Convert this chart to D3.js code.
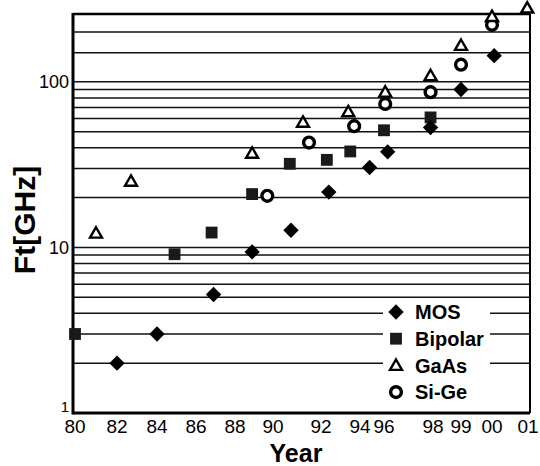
<!DOCTYPE html>
<meta charset="utf-8">
<script src="https://d3js.org/d3.v7.min.js"></script>
<style>
  body { margin: 0; background: #fff; }
  text { font-family: "Liberation Sans", Arial, sans-serif; fill: #000; }
</style>
<div id="chart"></div>
<script>
// tick labels on the (irregular) year axis
const tickYears = [80, 82, 84, 86, 88, 90, 92, 94, 96, 98, 99, 100, 101];
const tickLabels = ["80", "82", "84", "86", "88", "90", "92", "94", "96", "98", "99", "00", "01"];

// Ft values, per technology
const mosYears = [82, 84, 86.9, 88.9, 90.75, 92.4, 94.8, 96.15, 97.9, 99, 100.05];
const mosFt = [2.0, 3.0, 5.2, 9.4, 12.7, 21.6, 30.4, 37.8, 53, 90, 144];
const bipolarYears = [80, 84.9, 86.8, 88.9, 90.7, 92.3, 93.5, 96, 97.9];
const bipolarFt = [3.0, 9.1, 12.3, 21, 32, 33.8, 38, 51, 61];
const gaasYears = [81, 82.7, 88.9, 91.25, 93.4, 96.05, 97.9, 99, 100, 100.8];
const gaasFt = [12.2, 25.1, 37, 57, 66, 86.7, 109, 166, 248, 279];
const sigeYears = [89.7, 91.5, 93.7, 96.05, 97.9, 99, 100];
const sigeFt = [20.5, 43, 54, 73.6, 86.6, 127, 221];

const seriesNames = ["MOS", "Bipolar", "GaAs", "Si-Ge"];
const gridValues = [2, 3, 4, 5, 6, 7, 8, 9, 10, 20, 30, 40, 50, 60, 70, 80, 90, 100, 150, 200];
const yTicks = [1, 10, 100];

const margin = { top: 14, right: 10, bottom: 53, left: 73 },
  width = 540 - margin.left - margin.right,
  height = 466 - margin.top - margin.bottom;

const svg = d3.select("#chart")
  .append("svg")
  .attr("width", 540)
  .attr("height", 466)
  .append("g")
  .attr("transform", `translate(${margin.left}, ${margin.top})`);

// the year axis of the original is not evenly spaced -> piecewise linear scale
const x = d3.scaleLinear()
  .domain(tickYears)
  .range([2, 44, 84, 123, 162, 200, 248, 287, 311, 360, 388, 419, 463]);

const y = d3.scaleLog().domain([1, 257]).range([height, 0]);

// gridlines
svg.append("g")
  .selectAll("line")
  .data(gridValues)
  .join("line")
  .attr("x1", 0)
  .attr("x2", width)
  .attr("y1", d => y(d))
  .attr("y2", d => y(d))
  .attr("stroke", "#111")
  .attr("stroke-width", 1.5);

// legend background hides the gridlines behind it
const lgX = 310, lgY = 286;
svg.append("rect")
  .attr("x", lgX)
  .attr("y", lgY)
  .attr("width", 107)
  .attr("height", height - lgY)
  .attr("fill", "#fff");

// frame
svg.append("line").attr("x1", 0).attr("x2", width).attr("y1", 0).attr("y2", 0)
  .attr("stroke", "#000").attr("stroke-width", 2.5);
svg.append("line").attr("x1", width).attr("x2", width).attr("y1", 0).attr("y2", height)
  .attr("stroke", "#000").attr("stroke-width", 2);
svg.append("line").attr("x1", 0).attr("x2", 0).attr("y1", -1).attr("y2", height + 1.5)
  .attr("stroke", "#000").attr("stroke-width", 3);
svg.append("line").attr("x1", 0).attr("x2", width).attr("y1", height).attr("y2", height)
  .attr("stroke", "#000").attr("stroke-width", 3);

// y tick labels
svg.append("g")
  .selectAll("text")
  .data(yTicks)
  .join("text")
  .attr("x", -4)
  .attr("y", d => y(d))
  .attr("dy", d => d === 1 ? "-0.05em" : "0.35em")
  .attr("text-anchor", "end")
  .style("font-size", d => d === 1 ? "15px" : "18px")
  .text(d => d);

// x tick labels (last one pulled in so it stays on the page)
svg.append("g")
  .selectAll("text")
  .data(tickYears)
  .join("text")
  .attr("x", d => x(d))
  .attr("dx", (d, i) => i === tickYears.length - 1 ? -8 : 0)
  .attr("y", height + 20)
  .attr("text-anchor", "middle")
  .style("font-size", "19px")
  .text((d, i) => tickLabels[i]);

// axis titles
svg.append("text")
  .attr("x", 296 - margin.left)
  .attr("y", height + 49)
  .attr("text-anchor", "middle")
  .style("font-size", "25px")
  .style("font-weight", "bold")
  .text("Year");

svg.append("text")
  .attr("transform", `translate(${35 - margin.left}, ${220 - margin.top}) rotate(-90)`)
  .attr("text-anchor", "middle")
  .style("font-size", "30px")
  .style("font-weight", "bold")
  .text("Ft[GHz]");

// marker painters
const diamond = d3.symbol(d3.symbolSquare, 118);
const square = d3.symbol(d3.symbolSquare, 140);
const triangle = d3.symbol(d3.symbolTriangle, 62);

function drawMarker(g, name) {
  if (name === "MOS") {
    g.append("path").attr("d", diamond).attr("transform", "rotate(45)").attr("fill", "#000");
  } else if (name === "Bipolar") {
    g.append("path").attr("d", square).attr("fill", "#1a1a1a");
  } else if (name === "GaAs") {
    g.append("path").attr("d", triangle).attr("transform", "translate(0,1)")
      .attr("fill", "#fff").attr("stroke", "#000").attr("stroke-width", 2.4);
  } else {
    g.append("circle").attr("r", 5.4)
      .attr("fill", "#fff").attr("stroke", "#000").attr("stroke-width", 3.4);
  }
}

const seriesData = [
  { name: "MOS", years: mosYears, ft: mosFt },
  { name: "Bipolar", years: bipolarYears, ft: bipolarFt },
  { name: "GaAs", years: gaasYears, ft: gaasFt },
  { name: "Si-Ge", years: sigeYears, ft: sigeFt },
];

// draw the points (bipolar and mos first, open symbols on top)
const order = ["Bipolar", "MOS", "Si-Ge", "GaAs"];
order.forEach(function (name) {
  const s = seriesData.find(d => d.name === name);
  s.years.forEach(function (yr, i) {
    const g = svg.append("g")
      .attr("transform", `translate(${x(yr)}, ${y(s.ft[i])})`);
    drawMarker(g, name);
  });
});

// legend
seriesNames.forEach(function (name, i) {
  const row = svg.append("g")
    .attr("transform", `translate(${lgX + 13}, ${lgY + 12 + i * 26.7})`);
  drawMarker(row, name);
  row.append("text")
    .attr("x", 19)
    .attr("dy", "0.36em")
    .style("font-size", "20px")
    .style("font-weight", "bold")
    .text(name);
});
</script>
